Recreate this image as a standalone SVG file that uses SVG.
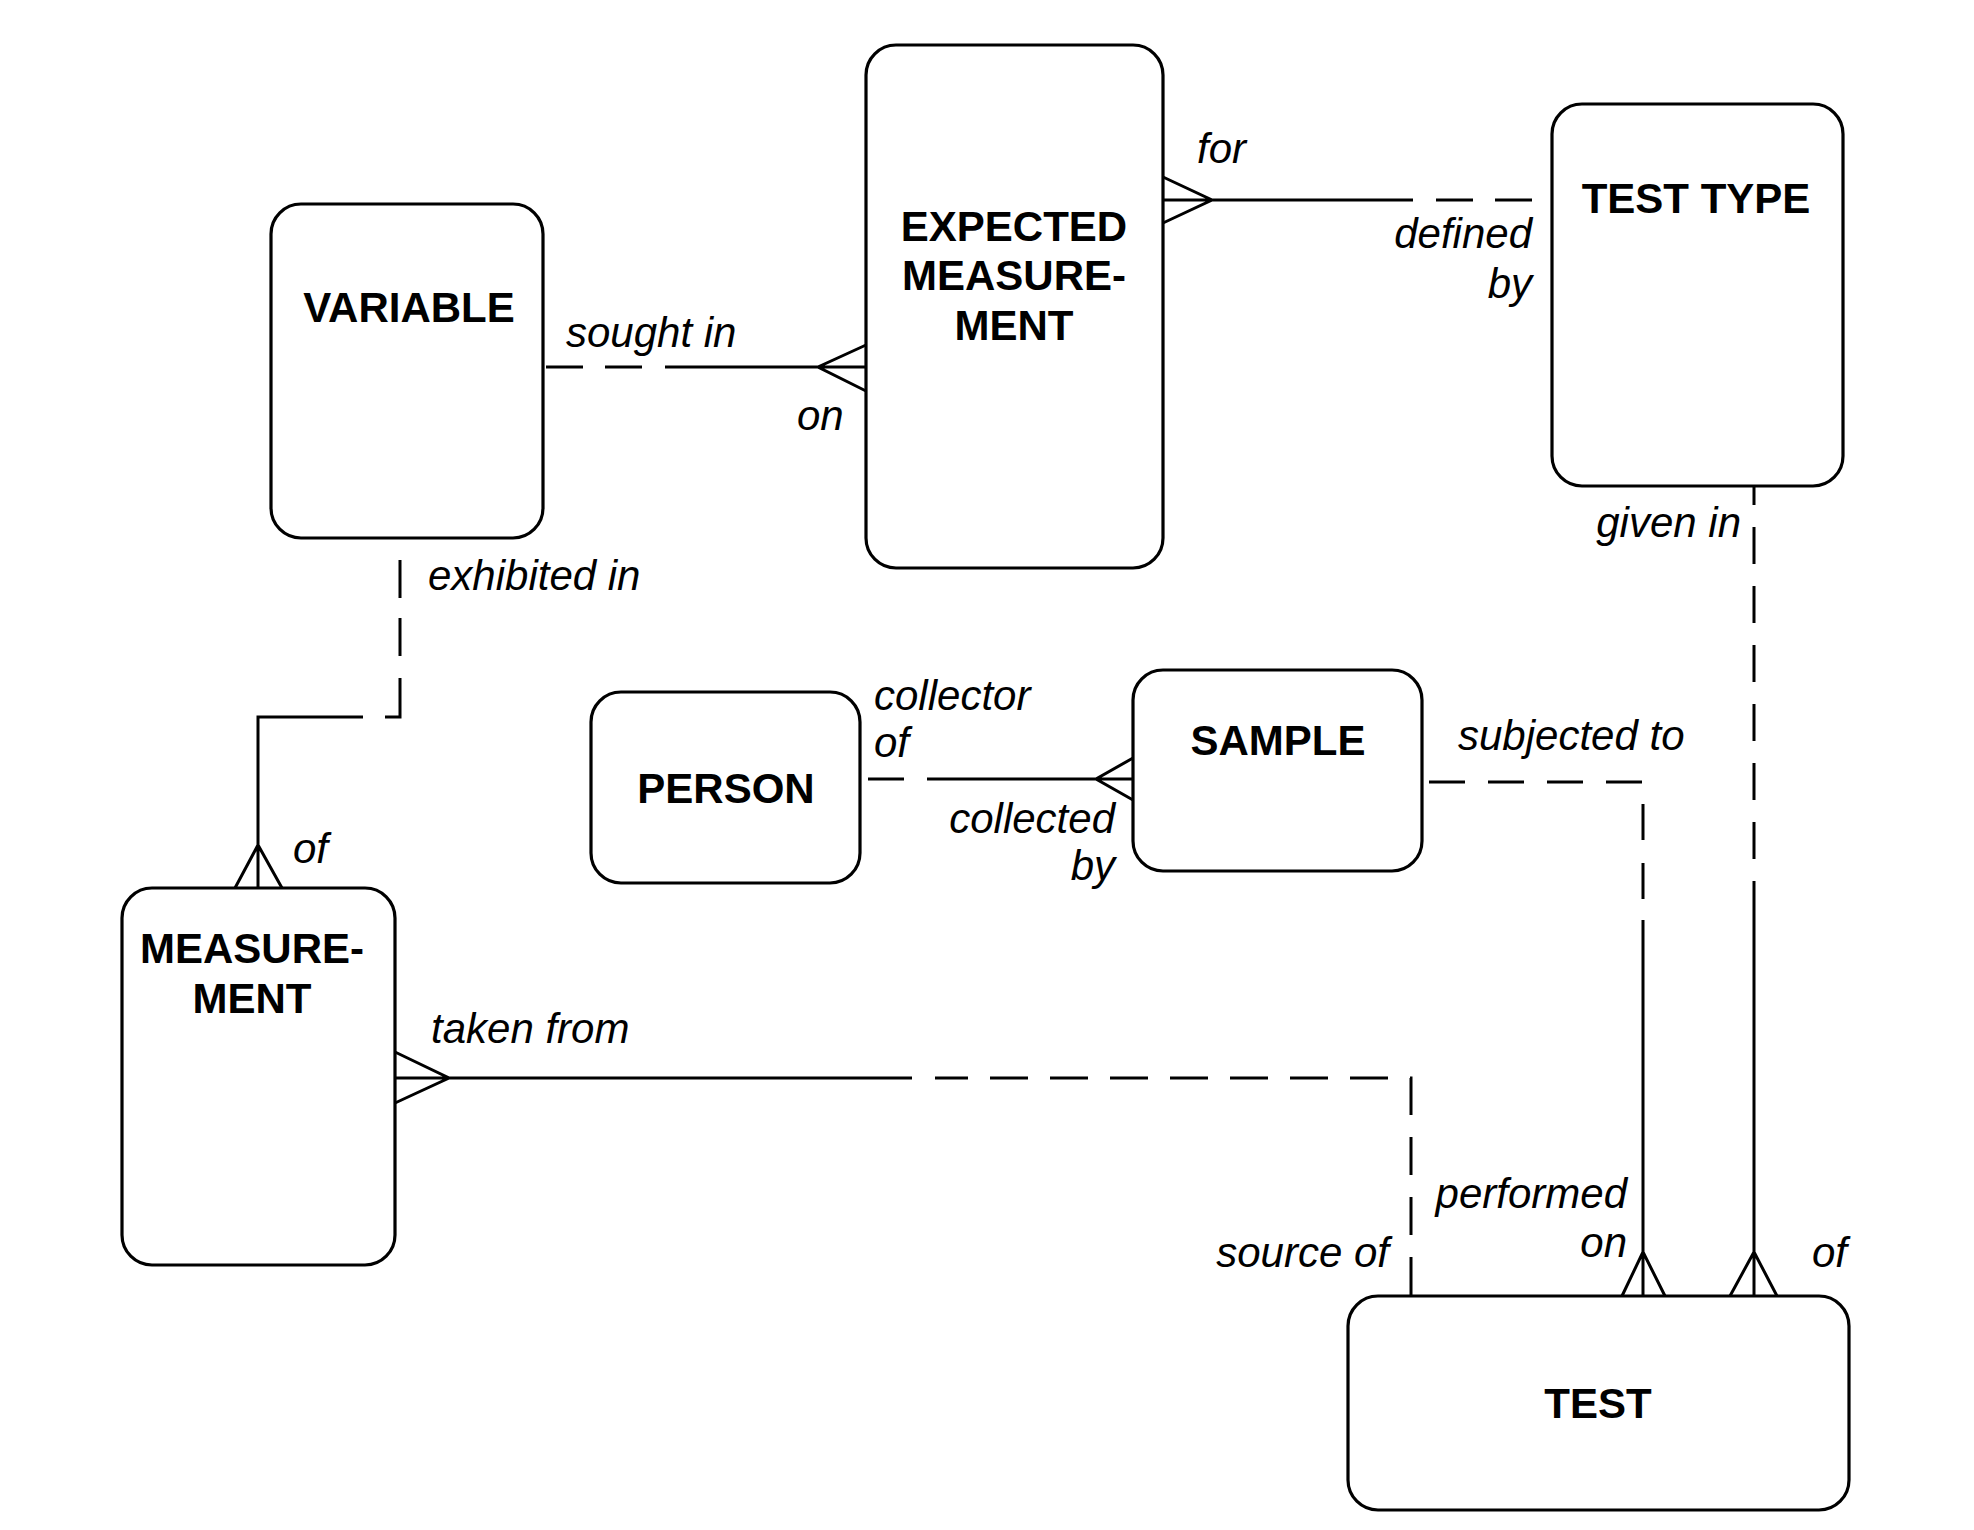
<svg xmlns="http://www.w3.org/2000/svg" width="1974" height="1530" viewBox="0 0 1974 1530">
<style>
.box{fill:#fff;stroke:#000;stroke-width:3.2}
.ent{font-family:"Liberation Sans",Arial,sans-serif;font-weight:bold;font-size:42px;text-anchor:middle;fill:#000}
.lbl{font-family:"Liberation Sans",Arial,sans-serif;font-style:italic;font-size:42px;fill:#000}
.end{text-anchor:end}
.ln{fill:none;stroke:#000;stroke-width:3}
.dash{stroke-dasharray:37 22}
</style>
<rect width="1974" height="1530" fill="#fff"/>
<g id="connectors">
  <!-- VARIABLE - EXPECTED MEASUREMENT -->
  <path class="ln dash" d="M546 367 H642"/>
  <path class="ln" d="M665 367 H866 M866 345 L818 367 L866 391"/>
  <!-- EXPECTED MEASUREMENT - TEST TYPE -->
  <path class="ln" d="M1163 200 H1413 M1163 177 L1212 200 L1163 223"/>
  <path class="ln dash" d="M1436 200 H1534"/>
  <!-- VARIABLE - MEASUREMENT -->
  <path class="ln" d="M385 717 H400 V560" style="stroke-dasharray:54 22 38 20 40"/>
  <path class="ln" d="M363 717 H258 V888 M235 888 L258 845 L282 888"/>
  <!-- MEASUREMENT - TEST -->
  <path class="ln" d="M395 1078 H912 M395 1052 L449 1078 L395 1103"/>
  <path class="ln" d="M1411 1295 V1078 H935" style="stroke-dasharray:38 22"/>
  <!-- PERSON - SAMPLE -->
  <path class="ln" d="M868 779 H904"/>
  <path class="ln" d="M927 779 H1133 M1133 758 L1096 779 L1133 800"/>
  <!-- SAMPLE - TEST -->
  <path class="ln" d="M1429 782 H1643 V920" style="stroke-dasharray:36 23"/>
  <path class="ln" d="M1643 920 V1296 M1622 1296 L1643 1252 L1665 1296"/>
  <!-- TEST TYPE - TEST -->
  <path class="ln dash" d="M1754 486 V890" style="stroke-dashoffset:18"/>
  <path class="ln" d="M1754 890 V1296 M1730 1296 L1754 1252 L1777 1296"/>
</g>
<g id="variable">
  <rect class="box" x="271" y="204" width="272" height="334" rx="30"/>
  <text class="ent" x="409" y="322">VARIABLE</text>
</g>
<g id="expected-measurement">
  <rect class="box" x="866" y="45" width="297" height="523" rx="30"/>
  <text class="ent" x="1014" y="241">EXPECTED</text>
  <text class="ent" x="1014" y="290">MEASURE-</text>
  <text class="ent" x="1014" y="340">MENT</text>
</g>
<g id="test-type">
  <rect class="box" x="1552" y="104" width="291" height="382" rx="30"/>
  <text class="ent" x="1696" y="213">TEST TYPE</text>
</g>
<g id="person">
  <rect class="box" x="591" y="692" width="269" height="191" rx="30"/>
  <text class="ent" x="726" y="803">PERSON</text>
</g>
<g id="sample">
  <rect class="box" x="1133" y="670" width="289" height="201" rx="30"/>
  <text class="ent" x="1278" y="755">SAMPLE</text>
</g>
<g id="measurement">
  <rect class="box" x="122" y="888" width="273" height="377" rx="30"/>
  <text class="ent" x="252" y="963">MEASURE-</text>
  <text class="ent" x="252" y="1013">MENT</text>
</g>
<g id="test">
  <rect class="box" x="1348" y="1296" width="501" height="214" rx="30"/>
  <text class="ent" x="1598" y="1418">TEST</text>
</g>
<g id="labels">
  <text class="lbl" x="566" y="347">sought in</text>
  <text class="lbl" x="797" y="430">on</text>
  <text class="lbl" x="1197" y="163">for</text>
  <text class="lbl end" x="1532" y="248">defined</text>
  <text class="lbl end" x="1532" y="298">by</text>
  <text class="lbl" x="428" y="590">exhibited in</text>
  <text class="lbl" x="293" y="863">of</text>
  <text class="lbl end" x="1741" y="537">given in</text>
  <text class="lbl" x="874" y="710">collector</text>
  <text class="lbl" x="874" y="757">of</text>
  <text class="lbl end" x="1115" y="833">collected</text>
  <text class="lbl end" x="1115" y="880">by</text>
  <text class="lbl" x="1458" y="750">subjected to</text>
  <text class="lbl" x="431" y="1043">taken from</text>
  <text class="lbl end" x="1389" y="1267">source of</text>
  <text class="lbl end" x="1627" y="1208">performed</text>
  <text class="lbl end" x="1627" y="1257">on</text>
  <text class="lbl" x="1812" y="1267">of</text>
</g>
</svg>
